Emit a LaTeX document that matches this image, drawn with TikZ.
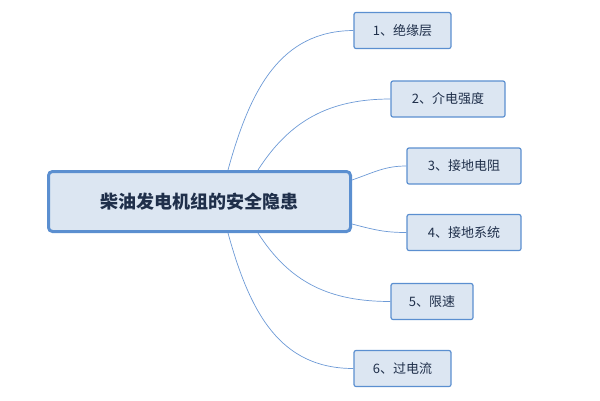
\documentclass[tikz,border=0pt]{standalone}
\usepackage{fontspec}
\setmainfont{Noto Sans CJK SC}
\begin{document}
\begin{tikzpicture}[x=1pt,y=-1pt,
  child/.style={draw=boxb,fill=boxf,rounded corners=2pt,line width=1.2pt,minimum height=36pt,inner xsep=0pt,font=\fontsize{13}{15}\selectfont,text=txt},
  link/.style={draw=lnk,line width=0.7pt}]
\definecolor{boxb}{HTML}{5B8FD0}
\definecolor{boxf}{HTML}{DCE6F2}
\definecolor{txt}{HTML}{1F2F4A}
\definecolor{lnk}{HTML}{6D9AD6}
\useasboundingbox (0,0) rectangle (600,400);
\node[draw=boxb,fill=boxf,rounded corners=4pt,line width=3pt,minimum width=302pt,minimum height=60pt,font=\bfseries\fontsize{18}{20}\selectfont,text=txt] (root) at (199.5,201.5) {柴油发电机组的安全隐患};
\node[child,minimum width=97pt] (c1) at (402.5,30.5) {1、绝缘层};
\node[child,minimum width=114pt] (c2) at (448,99) {2、介电强度};
\node[child,minimum width=114pt] (c3) at (464,166) {3、接地电阻};
\node[child,minimum width=114pt] (c4) at (464,232.5) {4、接地系统};
\node[child,minimum width=82pt] (c5) at (432,301.5) {5、限速};
\node[child,minimum width=97pt] (c6) at (402.5,368.5) {6、过电流};
\coordinate (s1) at (228,170);
\coordinate (s2) at (258,170);
\coordinate (s5) at (258,233);
\coordinate (s6) at (228,233);
\coordinate (s3) at (352,180);
\coordinate (s4) at (352,224);
\draw[link] (s1) .. controls (250,90) and (280,31) .. (c1.west);
\draw[link] (s2) .. controls (290,120) and (330,99) .. (c2.west);
\draw[link] (s3) .. controls (375,172) and (385,166) .. (c3.west);
\draw[link] (s4) .. controls (375,230) and (385,232.5) .. (c4.west);
\draw[link] (s5) .. controls (290,283) and (330,301.5) .. (c5.west);
\draw[link] (s6) .. controls (250,313) and (280,368.5) .. (c6.west);
\end{tikzpicture}
\end{document}
